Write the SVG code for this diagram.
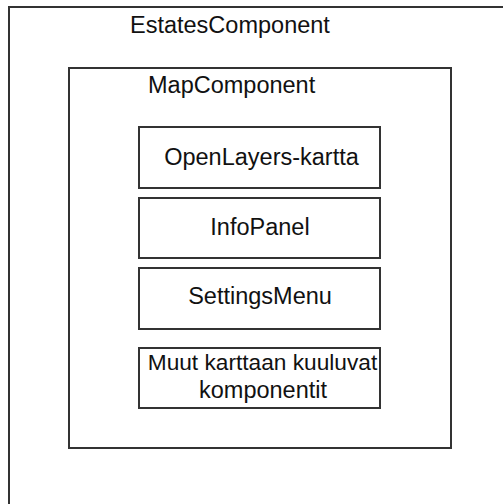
<svg xmlns="http://www.w3.org/2000/svg" width="503" height="504" viewBox="0 0 503 504">
<style>
.box{fill:#fff;stroke:#333;stroke-width:2}
.t{font-family:"Liberation Sans",Arial,sans-serif;font-size:23.5px;fill:#111}
.c{text-anchor:middle}
.s{font-size:22.7px}
</style>
<rect width="503" height="504" fill="#fff"/>
<g id="estates">
<rect class="box" x="9" y="7" width="510" height="510"/>
<text class="t" x="130" y="33">EstatesComponent</text>
</g>
<g id="map">
<rect class="box" x="69" y="68" width="382" height="380"/>
<text class="t" x="148" y="93">MapComponent</text>
</g>
<g id="openlayers">
<rect class="box" x="139" y="127" width="241" height="61"/>
<text class="t c" x="261.5" y="165">OpenLayers-kartta</text>
</g>
<g id="infopanel">
<rect class="box" x="139" y="198" width="241" height="60"/>
<text class="t c" x="260" y="235">InfoPanel</text>
</g>
<g id="settings">
<rect class="box" x="139" y="268" width="241" height="61"/>
<text class="t c" x="260" y="304">SettingsMenu</text>
</g>
<g id="muut">
<rect class="box" x="139" y="348" width="241" height="60"/>
<text class="t c s" x="262.5" y="370">Muut karttaan kuuluvat</text>
<text class="t c" x="263" y="398">komponentit</text>
</g>
<g id="connectors"/>
</svg>
